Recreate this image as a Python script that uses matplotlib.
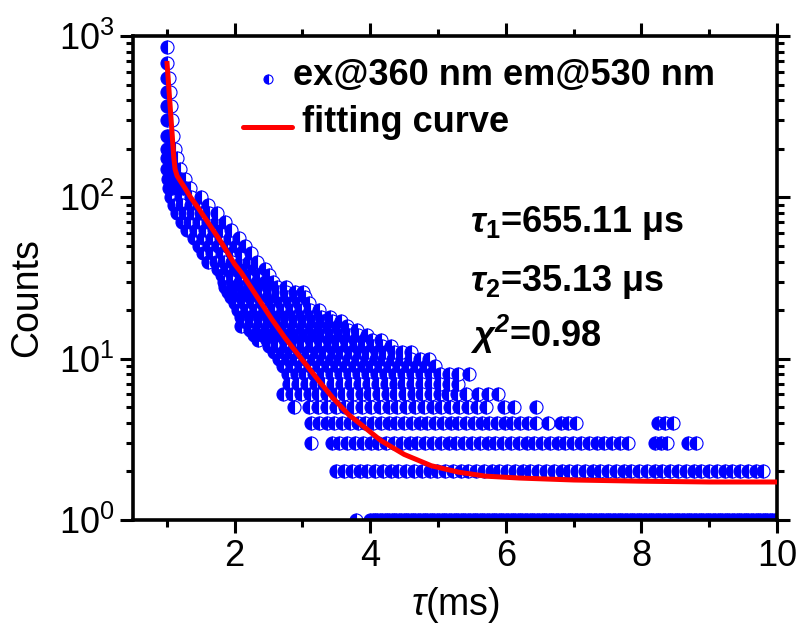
import matplotlib
matplotlib.use('Agg')
import matplotlib.pyplot as plt
from matplotlib.lines import Line2D
from matplotlib.ticker import FixedLocator, NullFormatter, LogLocator
import numpy as np

plt.rcParams['font.family'] = ['Liberation Sans', 'DejaVu Sans']
plt.rcParams['mathtext.fontset'] = 'custom'
plt.rcParams['mathtext.rm'] = 'Liberation Sans'
plt.rcParams['mathtext.it'] = 'Liberation Sans:italic'
plt.rcParams['mathtext.bf'] = 'Liberation Sans:bold'
plt.rcParams['mathtext.bfit'] = 'Liberation Sans:italic:bold'

# ---------------- data ----------------
# integer count levels and the time ranges (ms) over which each level is observed
band_levels = [1, 2, 3, 4, 5, 6, 7, 8, 9, 10, 11, 12, 13, 14, 15, 16, 17, 18,
               20, 22, 24, 26, 28, 30, 33, 36, 40, 45, 50, 56, 63, 70, 80, 90,
               100, 115, 130, 150, 175, 200, 240, 300, 370, 450, 550, 680, 850]
band_runs = [
    [[3.79, 3.79], [4.00, 10.0]],
    [[3.50, 9.80]],
    [[3.13, 3.13], [3.43, 7.80], [8.20, 8.38], [8.68, 8.80]],
    [[3.13, 6.44], [6.62, 6.62], [6.81, 7.03], [8.24, 8.46]],
    [[2.88, 2.88], [3.10, 5.70], [5.97, 6.12], [6.44, 6.44]],
    [[2.72, 5.41], [5.59, 5.88]],
    [[2.80, 5.29]],
    [[2.78, 5.29], [5.46, 5.46]],
    [[2.72, 4.95]],
    [[2.65, 4.86]],
    [[2.58, 4.60]],
    [[2.50, 4.30]],
    [[2.35, 4.16]],
    [[2.28, 3.95]],
    [[2.22, 3.80]],
    [[2.10, 3.65]],
    [[2.12, 3.57]],
    [[2.10, 3.40]],
    [[2.05, 3.25]],
    [[2.00, 3.09]],
    [[1.95, 3.04]],
    [[1.90, 3.01]],
    [[1.86, 2.75]],
    [[1.84, 2.57]],
    [[1.82, 2.50]],
    [[1.75, 2.44]],
    [[1.60, 2.33]],
    [[1.53, 2.24]],
    [[1.48, 2.15]],
    [[1.40, 2.06]],
    [[1.30, 1.95]],
    [[1.22, 1.86]],
    [[1.15, 1.74]],
    [[1.10, 1.60]],
    [[1.06, 1.51]],
    [[1.03, 1.34]],
    [[1.01, 1.26]],
    [[1.00, 1.20]],
    [[1.00, 1.15]],
    [[1.00, 1.12]],
    [[1.00, 1.09]],
    [[1.00, 1.07]],
    [[1.00, 1.06]],
    [[1.00, 1.04]],
    [[1.00, 1.03]],
    [[1.00, 1.02]],
    [[1.00, 1.00]],
]

# fitting curve
fit_t = [1.00, 1.02, 1.04, 1.06, 1.08, 1.10, 1.12, 1.15, 1.20, 1.25, 1.35, 1.47,
         1.60, 1.81, 2.00, 2.10, 2.35, 2.55, 2.74, 3.00, 3.24, 3.45, 3.68, 3.90,
         4.16, 4.50, 4.90, 5.30, 5.70, 6.20, 7.00, 8.00, 9.00, 10.0]
fit_counts = [700, 534, 406, 310, 237, 180, 150, 136, 126, 117, 100, 85,
              70.5, 52, 38.5, 34, 23.5, 17.5, 13.5, 9.8, 7.3, 5.7, 4.5, 3.8,
              3.1, 2.55, 2.17, 1.98, 1.87, 1.82, 1.77, 1.74, 1.72, 1.72]

x_major = [2, 4, 6, 8, 10]
x_minor = [1, 3, 5, 7, 9]
y_major = [1, 10, 100, 1000]
y_major_labels = [r'$10^0$', r'$10^1$', r'$10^2$', r'$10^3$']

legend_labels = ['ex@360 nm em@530 nm', 'fitting curve']
fit_params = [r'$\mathbfit{\tau}_\mathbf{1}$=655.11 μs',
              r'$\mathbfit{\tau}_\mathbf{2}$=35.13 μs',
              r'$\mathbfit{\chi}^\mathbfit{2}$=0.98']

# ---------------- figure ----------------
W, H = 802, 632
fig = plt.figure(figsize=(W / 100, H / 100), dpi=100)
ax = fig.add_axes([133 / W, (H - 520) / H, (777 - 133) / W, (520 - 36) / H])

# expand the read runs into marker positions (marker spacing is a display choice)
pts_x, pts_y = [], []
for lev, runs in zip(band_levels, band_runs):
    if lev == 1:
        step = 0.035
    elif lev <= 4:
        step = 0.115
    elif lev <= 100:
        step = 0.13
    else:
        step = 0.05
    for x0, x1 in runs:
        n = max(1, int(round((x1 - x0) / step)) + 1)
        xs = np.linspace(x0, x1, n)
        pts_x.extend(xs)
        pts_y.extend([lev] * n)
order = np.argsort(pts_x, kind='stable')
pts_x = np.asarray(pts_x)[order]
pts_y = np.asarray(pts_y)[order]

blue = '#0000FF'
red = '#FF0000'
marker_style = dict(ls='none', marker='o', fillstyle='left',
                    markerfacecolor=blue, markerfacecoloralt='white',
                    markeredgecolor=blue, markeredgewidth=0.8)
# draw each half-filled circle in time order so later points overlap earlier ones
for px, py in zip(pts_x, pts_y):
    ax.plot([px], [py], ms=9.4, zorder=2, **marker_style)
ax.plot(fit_t, fit_counts, color=red, lw=3.6, zorder=3, solid_capstyle='butt')

ax.set_yscale('log')
ax.set_xlim(0.5, 10)
ax.set_ylim(1, 1000)

ax.xaxis.set_major_locator(FixedLocator(x_major))
ax.xaxis.set_minor_locator(FixedLocator(x_minor))
ax.set_xticklabels([str(v) for v in x_major])
ax.yaxis.set_major_locator(FixedLocator(y_major))
ax.set_yticklabels(y_major_labels)
ax.yaxis.set_minor_locator(LogLocator(base=10, subs=np.arange(2, 10)))
ax.yaxis.set_minor_formatter(NullFormatter())

for s in ax.spines.values():
    s.set_linewidth(2.6)
ax.tick_params(which='both', direction='out', width=2.2, top=True, right=True,
               labeltop=False, labelright=False)
ax.tick_params(which='major', length=9.5, labelsize=26, pad=4)
ax.tick_params(which='minor', length=5)

ax.set_ylabel('Counts', fontsize=27)
ax.yaxis.set_label_coords(-0.137, 0.459)
ax.set_xlabel(r'$\tau$(ms)', fontsize=27, labelpad=8)

# legend (Origin-style placement of symbols)
fig.add_artist(Line2D([268 / W], [1 - 79 / H], transform=fig.transFigure,
                      ms=6.5, **marker_style))
fig.add_artist(Line2D([243 / W, 292 / W], [1 - 127 / H, 1 - 127 / H],
                      transform=fig.transFigure, color=red, lw=3.6,
                      solid_capstyle='round'))
for lab, (lx, ly) in zip(legend_labels, [(293, 85), (302, 132)]):
    fig.text(lx / W, 1 - ly / H, lab, fontsize=26, fontweight='bold',
             ha='left', va='baseline')

for txt, yb in zip(fit_params, [232, 291, 347]):
    fig.text(470 / W, 1 - yb / H, txt, fontsize=26, fontweight='bold',
             ha='left', va='baseline')

fig.savefig('out.png', dpi=100)
